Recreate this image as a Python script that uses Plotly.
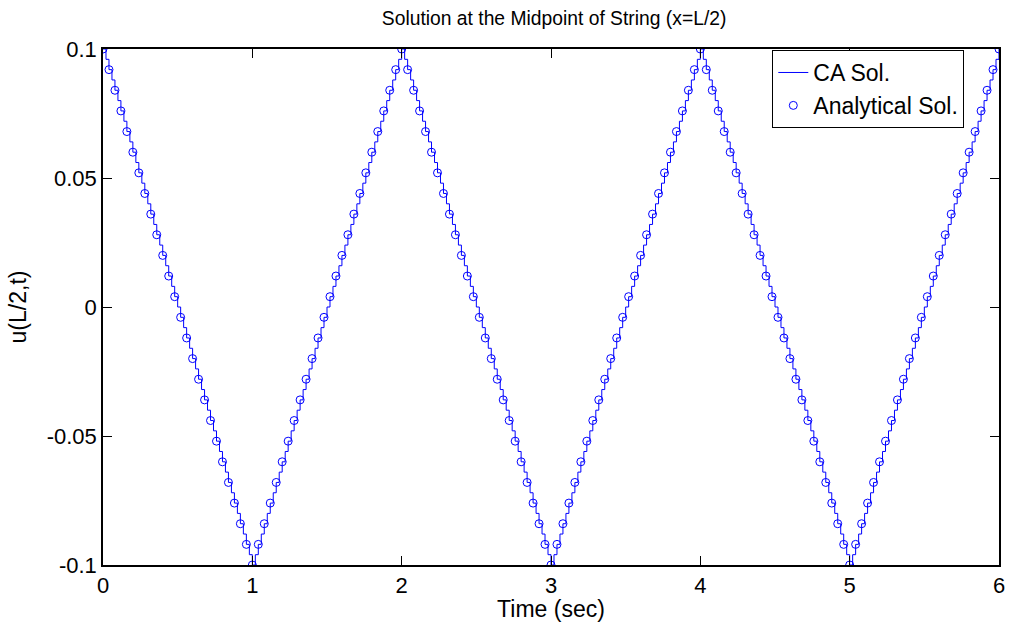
import plotly.graph_objects as go

# Time sampling of the two series (seconds)
ANALYTIC_T0 = 0.0
ANALYTIC_DT = 0.04
CA_T0 = 0.0
CA_DT = 0.02

# Analytical solution u(L/2,t), sampled every 0.04 s from t=0 to t=6
analytic_u = [
    0.1, 0.092, 0.084, 0.076, 0.068, 0.06, 0.052, 0.044, 0.036, 0.028, 0.02, 0.012, 0.004,
    -0.004, -0.012, -0.02, -0.028, -0.036, -0.044, -0.052, -0.06, -0.068, -0.076, -0.084, -0.092, -0.1,
    -0.092, -0.084, -0.076, -0.068, -0.06, -0.052, -0.044, -0.036, -0.028, -0.02, -0.012, -0.004,
    0.004, 0.012, 0.02, 0.028, 0.036, 0.044, 0.052, 0.06, 0.068, 0.076, 0.084, 0.092, 0.1,
    0.092, 0.084, 0.076, 0.068, 0.06, 0.052, 0.044, 0.036, 0.028, 0.02, 0.012, 0.004,
    -0.004, -0.012, -0.02, -0.028, -0.036, -0.044, -0.052, -0.06, -0.068, -0.076, -0.084, -0.092, -0.1,
    -0.092, -0.084, -0.076, -0.068, -0.06, -0.052, -0.044, -0.036, -0.028, -0.02, -0.012, -0.004,
    0.004, 0.012, 0.02, 0.028, 0.036, 0.044, 0.052, 0.06, 0.068, 0.076, 0.084, 0.092, 0.1,
    0.092, 0.084, 0.076, 0.068, 0.06, 0.052, 0.044, 0.036, 0.028, 0.02, 0.012, 0.004,
    -0.004, -0.012, -0.02, -0.028, -0.036, -0.044, -0.052, -0.06, -0.068, -0.076, -0.084, -0.092, -0.1,
    -0.092, -0.084, -0.076, -0.068, -0.06, -0.052, -0.044, -0.036, -0.028, -0.02, -0.012, -0.004,
    0.004, 0.012, 0.02, 0.028, 0.036, 0.044, 0.052, 0.06, 0.068, 0.076, 0.084, 0.092, 0.1,
]

# Cellular-automaton solution u(L/2,t), sampled every 0.02 s (stepwise)
ca_u = [
    0.1, 0.096, 0.092, 0.088, 0.084, 0.08, 0.076, 0.072, 0.068, 0.064, 0.06, 0.056, 0.052, 0.048,
    0.044, 0.04, 0.036, 0.032, 0.028, 0.024, 0.02, 0.016, 0.012, 0.008, 0.004, 0.0,
    -0.004, -0.008, -0.012, -0.016, -0.02, -0.024, -0.028, -0.032, -0.036, -0.04, -0.044, -0.048,
    -0.052, -0.056, -0.06, -0.064, -0.068, -0.072, -0.076, -0.08, -0.084, -0.088, -0.092, -0.096, -0.1,
    -0.096, -0.092, -0.088, -0.084, -0.08, -0.076, -0.072, -0.068, -0.064, -0.06, -0.056, -0.052, -0.048,
    -0.044, -0.04, -0.036, -0.032, -0.028, -0.024, -0.02, -0.016, -0.012, -0.008, -0.004, 0.0,
    0.004, 0.008, 0.012, 0.016, 0.02, 0.024, 0.028, 0.032, 0.036, 0.04, 0.044, 0.048,
    0.052, 0.056, 0.06, 0.064, 0.068, 0.072, 0.076, 0.08, 0.084, 0.088, 0.092, 0.096, 0.1,
    0.096, 0.092, 0.088, 0.084, 0.08, 0.076, 0.072, 0.068, 0.064, 0.06, 0.056, 0.052, 0.048,
    0.044, 0.04, 0.036, 0.032, 0.028, 0.024, 0.02, 0.016, 0.012, 0.008, 0.004, 0.0,
    -0.004, -0.008, -0.012, -0.016, -0.02, -0.024, -0.028, -0.032, -0.036, -0.04, -0.044, -0.048,
    -0.052, -0.056, -0.06, -0.064, -0.068, -0.072, -0.076, -0.08, -0.084, -0.088, -0.092, -0.096, -0.1,
    -0.096, -0.092, -0.088, -0.084, -0.08, -0.076, -0.072, -0.068, -0.064, -0.06, -0.056, -0.052, -0.048,
    -0.044, -0.04, -0.036, -0.032, -0.028, -0.024, -0.02, -0.016, -0.012, -0.008, -0.004, 0.0,
    0.004, 0.008, 0.012, 0.016, 0.02, 0.024, 0.028, 0.032, 0.036, 0.04, 0.044, 0.048,
    0.052, 0.056, 0.06, 0.064, 0.068, 0.072, 0.076, 0.08, 0.084, 0.088, 0.092, 0.096, 0.1,
    0.096, 0.092, 0.088, 0.084, 0.08, 0.076, 0.072, 0.068, 0.064, 0.06, 0.056, 0.052, 0.048,
    0.044, 0.04, 0.036, 0.032, 0.028, 0.024, 0.02, 0.016, 0.012, 0.008, 0.004, 0.0,
    -0.004, -0.008, -0.012, -0.016, -0.02, -0.024, -0.028, -0.032, -0.036, -0.04, -0.044, -0.048,
    -0.052, -0.056, -0.06, -0.064, -0.068, -0.072, -0.076, -0.08, -0.084, -0.088, -0.092, -0.096, -0.1,
    -0.096, -0.092, -0.088, -0.084, -0.08, -0.076, -0.072, -0.068, -0.064, -0.06, -0.056, -0.052, -0.048,
    -0.044, -0.04, -0.036, -0.032, -0.028, -0.024, -0.02, -0.016, -0.012, -0.008, -0.004, 0.0,
    0.004, 0.008, 0.012, 0.016, 0.02, 0.024, 0.028, 0.032, 0.036, 0.04, 0.044, 0.048,
    0.052, 0.056, 0.06, 0.064, 0.068, 0.072, 0.076, 0.08, 0.084, 0.088, 0.092, 0.096, 0.1,
]

x_ticks = [0, 1, 2, 3, 4, 5, 6]
x_tick_labels = ["0", "1", "2", "3", "4", "5", "6"]
y_ticks = [-0.1, -0.05, 0, 0.05, 0.1]
y_tick_labels = ["-0.1", "-0.05", "0", "0.05", "0.1"]

BLUE = "rgb(0,0,255)"
FONT = "Liberation Sans, Arial, sans-serif"

fig = go.Figure()
fig.add_trace(go.Scatter(
    x0=CA_T0, dx=CA_DT, y=ca_u, mode="lines", name="CA Sol.",
    line=dict(color=BLUE, width=1, shape="hv"),
))
fig.add_trace(go.Scatter(
    x0=ANALYTIC_T0, dx=ANALYTIC_DT, y=analytic_u, mode="markers", name="Analytical Sol.",
    marker=dict(symbol="circle-open", color=BLUE, size=8, line=dict(width=1, color=BLUE)),
))

axis_common = dict(
    showgrid=False, zeroline=False, showline=True, linecolor="black", linewidth=1.5,
    mirror="allticks", ticks="inside", ticklen=9, tickwidth=1, tickcolor="black",
    tickfont=dict(family=FONT, size=22, color="black"),
)

fig.update_layout(
    width=1013, height=622,
    margin=dict(l=103, r=8, t=49, b=57),
    paper_bgcolor="white", plot_bgcolor="white",
    font=dict(family=FONT, color="black"),
    title=dict(text="Solution at the Midpoint of String (x=L/2)", x=0.547, xanchor="center",
               y=0.971, yanchor="middle", font=dict(family=FONT, size=19.3, color="black")),
    xaxis=dict(range=[0, 6], tickvals=x_ticks, ticktext=x_tick_labels,
               title=dict(text="Time (sec)", font=dict(family=FONT, size=23), standoff=0),
               **axis_common),
    yaxis=dict(range=[-0.1, 0.1], tickvals=y_ticks, ticktext=y_tick_labels,
               title=dict(text="u(L/2,t)", font=dict(family=FONT, size=23), standoff=14),
               **axis_common),
    legend=dict(x=0.747, y=0.998, xanchor="left", yanchor="top",
                bgcolor="white", bordercolor="black", borderwidth=1,
                font=dict(family=FONT, size=23, color="black"),
                tracegroupgap=0, itemwidth=30),
    showlegend=True,
)

fig.write_html("out.html")
